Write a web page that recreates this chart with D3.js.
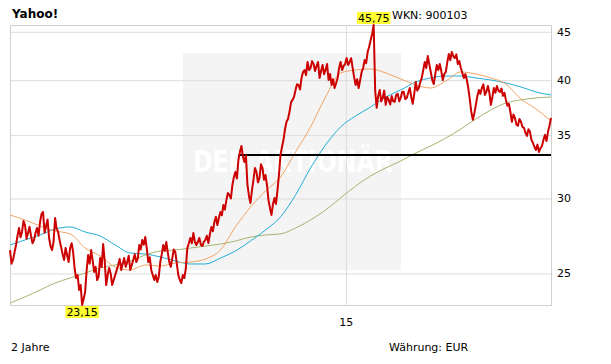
<!DOCTYPE html>
<html>
<head>
<meta charset="utf-8">
<script src="https://cdn.jsdelivr.net/npm/d3@7"></script>
<style>
  body { margin: 0; background: #fff; }
  text { font-family: "DejaVu Sans", Verdana, sans-serif; }
</style>
</head>
<body>
<div class="container"></div>
<script>
// chart size and plot frame
const width = 611;
const height = 364;
const plot = { left: 10, right: 551, top: 25, bottom: 305 };

// price series, one value every 2 days (EUR)
const prices = [
  26.46,25.6, 25.83,26.3, 26.79,27.4, 27.92,27.3, 27.65,28.4,
  28.12,27.2, 27.58,28.0, 27.38,26.9, 27.12,27.6, 27.92,27.4,
  28.33,28.9, 29.03,27.6, 28.06,28.5, 27.25,26.7, 26.46,27.0,
  28.61,27.9, 27.65,27.1, 26.66,26.2, 25.83,26.6, 26.14,25.7,
  26.59,26.9, 26.34,25.3, 24.72,24.9, 24.01,24.3, 23.15,23.5,
  23.89,25.2, 26.14,25.6, 26.46,25.8, 25.09,25.4, 24.60,24.8,
  25.95,25.4, 26.85,25.8, 24.30,24.9, 25.33,25.0, 24.30,24.6,
  24.90,25.2, 25.52,25.9, 25.21,25.6, 25.95,25.4, 25.70,26.1,
  25.21,25.5, 25.83,26.2, 25.70,25.9, 26.79,26.5, 27.12,26.8,
  27.31,26.6, 25.70,26.0, 25.21,24.9, 24.60,24.9, 24.48,24.8,
  25.70,26.2, 26.79,26.4, 26.98,26.3, 25.70,25.4, 25.95,26.5,
  26.34,25.6, 24.90,24.6, 24.42,24.9, 24.72,25.3, 26.59,26.9,
  27.25,26.9, 27.58,27.0, 26.79,27.0, 27.25,26.8, 26.72,27.0,
  27.12,27.4, 26.92,27.5, 27.99,27.7, 28.33,28.7, 28.12,28.6,
  29.03,28.8, 29.53,29.2, 29.89,30.4, 30.25,30.0, 31.00,31.6,
  32.00,31.5, 32.94,33.6, 34.09,33.2, 32.78,33.3, 31.00,30.2,
  29.67,30.6, 31.38,32.3, 32.00,31.2, 31.53,32.6, 32.31,31.4,
  31.76,31.0, 29.89,29.3, 28.82,29.6, 30.04,29.6, 30.62,31.8,
  33.35,34.0, 34.60,35.5, 36.15,36.4, 37.04,37.9, 38.13,38.4,
  39.06,39.6, 39.54,39.1, 40.22,40.8, 41.01,40.5, 41.81,41.0,
  41.21,41.9, 41.61,40.9, 41.41,41.8, 40.22,40.9, 41.51,40.6,
  41.01,41.6, 40.02,40.6, 39.54,40.1, 39.25,39.7, 40.22,41.2,
  41.81,41.0, 41.41,41.6, 42.22,41.5, 41.81,42.2, 41.21,40.3,
  39.54,40.1, 39.25,40.0, 40.81,41.2, 42.01,41.7, 42.84,43.4,
  44.11,44.8, 45.75,39.0, 37.40,38.5, 39.06,38.0, 38.31,39.0,
  37.67,38.4, 38.13,37.7, 38.50,38.0, 37.95,38.6, 38.69,38.0,
  38.31,38.9, 38.87,38.2, 38.31,38.8, 39.25,38.4, 37.76,38.7,
  39.83,39.0, 39.25,39.8, 40.22,41.0, 41.81,41.2, 42.43,41.6,
  40.81,40.0, 39.63,40.6, 41.51,41.0, 41.61,40.9, 40.02,40.6,
  40.81,41.8, 42.63,42.0, 42.84,42.4, 42.22,42.6, 41.61,41.9,
  41.21,40.7, 40.22,40.6, 40.02,39.2, 38.13,37.0, 36.33,36.9,
  37.67,38.5, 39.06,38.7, 39.25,39.6, 38.59,38.9, 39.44,38.8,
  37.67,38.4, 39.25,38.8, 39.44,39.0, 38.87,39.2, 38.50,38.8,
  38.13,37.6, 37.76,37.0, 36.15,36.8, 36.50,35.9, 35.80,36.4,
  36.15,35.7, 35.63,35.2, 34.93,35.5, 35.28,34.6, 34.34,34.0,
  33.76,34.2, 33.59,33.9, 34.09,34.6, 35.02,34.5, 35.28,35.8,
  36.50
];

// moving averages, one value every 10th price point
const ma38 = [
  28.82,28.47,28.06,27.72,27.52,26.59,26.08,25.39,25.21,25.52,
  25.45,25.64,25.70,25.89,26.46,27.99,29.38,30.55,31.61,33.59,
  35.70,38.40,40.71,41.01,41.11,40.71,40.12,39.54,39.25,39.93,
  40.81,40.61,40.22,39.63,38.21,37.30,36.22
];
const ma100 = [
  26.79,27.12,27.45,27.85,27.99,27.65,27.38,26.79,26.27,26.21,
  26.02,25.77,25.58,25.58,25.95,26.40,27.05,27.78,28.68,30.25,
  32.31,34.17,35.70,36.67,37.48,38.40,39.06,39.83,40.22,40.41,
  40.41,40.22,40.02,39.73,39.35,38.87,38.59
];
const ma200 = [
  23.26,23.61,24.01,24.42,24.72,25.02,25.33,25.52,25.77,26.14,
  26.40,26.46,26.59,26.72,26.85,27.05,27.31,27.45,27.52,27.92,
  28.47,29.17,30.04,30.92,31.69,32.31,32.86,33.51,34.09,34.75,
  35.52,36.40,37.21,37.84,38.13,38.31,38.40
];

// axis ticks and the support line
const yTicks = [25, 30, 35, 40, 45];
const xTicks = [new Date(2015, 0, 1)];
const supportLevel = 33.35;
const supportFromIndex = 152;

const startDate = new Date(2013, 9, 11);
const dates = prices.map((d, i) => d3.timeDay.offset(startDate, i * 2));
const maDates = ma38.map((d, i) => dates[i * 10]);

const svg = d3.select(".container")
  .append("svg")
  .attr("width", width)
  .attr("height", height)
  .style("display", "block");

svg.append("rect").attr("width", width).attr("height", height).attr("fill", "#fff");

const xScale = d3.scaleTime()
  .domain([dates[0], dates[dates.length - 1]])
  .range([plot.left, plot.right]);

const yScale = d3.scaleLog()
  .domain([d3.min(prices), d3.max(prices)])
  .range([plot.bottom, plot.top]);

// watermark box behind the chart
svg.append("rect")
  .attr("x", 183).attr("y", 53)
  .attr("width", 218).attr("height", 217)
  .attr("fill", "#f4f4f4");
svg.append("text")
  .attr("x", 193).attr("y", 172)
  .attr("textLength", 200)
  .attr("lengthAdjust", "spacingAndGlyphs")
  .attr("font-size", 30)
  .attr("font-weight", "bold")
  .attr("fill", "#fff")
  .text("DER AKTIONÄR");

// horizontal grid
svg.append("g")
  .attr("transform", `translate(${plot.left},0)`)
  .call(d3.axisRight(yScale).tickValues(yTicks).tickSize(plot.right - plot.left).tickFormat(""))
  .call(g => g.select(".domain").remove())
  .call(g => g.selectAll("line").attr("stroke", "#dcdcdc"));

// vertical grid at the year change
svg.append("g")
  .attr("transform", `translate(0,${plot.bottom})`)
  .call(d3.axisBottom(xScale).tickValues(xTicks).tickSize(-(plot.bottom - plot.top)).tickFormat(""))
  .call(g => g.select(".domain").remove())
  .call(g => g.selectAll("line").attr("stroke", "#dcdcdc"));

// frame
svg.append("rect")
  .attr("x", plot.left + 0.5).attr("y", plot.top + 0.5)
  .attr("width", plot.right - plot.left).attr("height", plot.bottom - plot.top)
  .attr("fill", "none")
  .attr("stroke", "#d0d0d0");

// moving averages
const maLine = d3.line()
  .x((d, i) => xScale(maDates[i]))
  .y(d => yScale(d))
  .curve(d3.curveMonotoneX);

[[ma200, "#a6b46e"], [ma100, "#22aed6"], [ma38, "#f2a465"]].forEach(([values, color]) => {
  svg.append("path")
    .datum(values)
    .attr("d", maLine)
    .attr("fill", "none")
    .attr("stroke", color)
    .attr("stroke-width", 1);
});

// support line
svg.append("line")
  .attr("x1", xScale(dates[supportFromIndex])).attr("x2", plot.right)
  .attr("y1", yScale(supportLevel)).attr("y2", yScale(supportLevel))
  .attr("stroke", "#000")
  .attr("stroke-width", 2);

// price line
svg.append("path")
  .datum(prices)
  .attr("d", d3.line().x((d, i) => xScale(dates[i])).y(d => yScale(d)))
  .attr("fill", "none")
  .attr("stroke", "#cc0000")
  .attr("stroke-width", 2)
  .attr("stroke-linejoin", "round");

// right axis labels
svg.append("g")
  .attr("transform", `translate(${plot.right},0)`)
  .call(d3.axisRight(yScale).tickValues(yTicks).tickSize(0).tickPadding(6).tickFormat(d3.format("d")))
  .call(g => g.select(".domain").remove())
  .call(g => g.selectAll("text").attr("font-size", 11).attr("fill", "#000")
    .style("font-family", "'DejaVu Sans', Verdana, sans-serif"));

// bottom axis label
svg.append("g")
  .attr("transform", `translate(0,${plot.bottom})`)
  .call(d3.axisBottom(xScale).tickValues(xTicks).tickSize(0).tickPadding(13).tickFormat(d3.timeFormat("%y")))
  .call(g => g.select(".domain").remove())
  .call(g => g.selectAll("text").attr("font-size", 11).attr("fill", "#000")
    .style("font-family", "'DejaVu Sans', Verdana, sans-serif"));

// high / low markers
const fmt = v => d3.format(".2f")(v).replace(".", ",");
function marker(index, boxTop) {
  const g = svg.append("g");
  const t = g.append("text")
    .attr("x", xScale(dates[index]))
    .attr("y", boxTop + 9.5)
    .attr("text-anchor", "middle")
    .attr("font-size", 11)
    .text(fmt(prices[index]));
  const w = t.node().getComputedTextLength();
  g.insert("rect", "text")
    .attr("x", xScale(dates[index]) - w / 2 - 1)
    .attr("y", boxTop)
    .attr("width", w + 2)
    .attr("height", 12)
    .attr("fill", "#ffff33");
}
marker(prices.indexOf(d3.max(prices)), 12);
marker(prices.indexOf(d3.min(prices)), 306);

// texts
svg.append("text").attr("x", 12).attr("y", 18)
  .attr("font-size", 12).attr("font-weight", "bold").text("Yahoo!");
svg.append("text").attr("x", 392).attr("y", 19)
  .attr("font-size", 11).text("WKN: 900103");
svg.append("text").attr("x", 11).attr("y", 351)
  .attr("font-size", 11).text("2 Jahre");
svg.append("text").attr("x", 389).attr("y", 351)
  .attr("font-size", 11).text("Währung: EUR");
</script>
</body>
</html>
